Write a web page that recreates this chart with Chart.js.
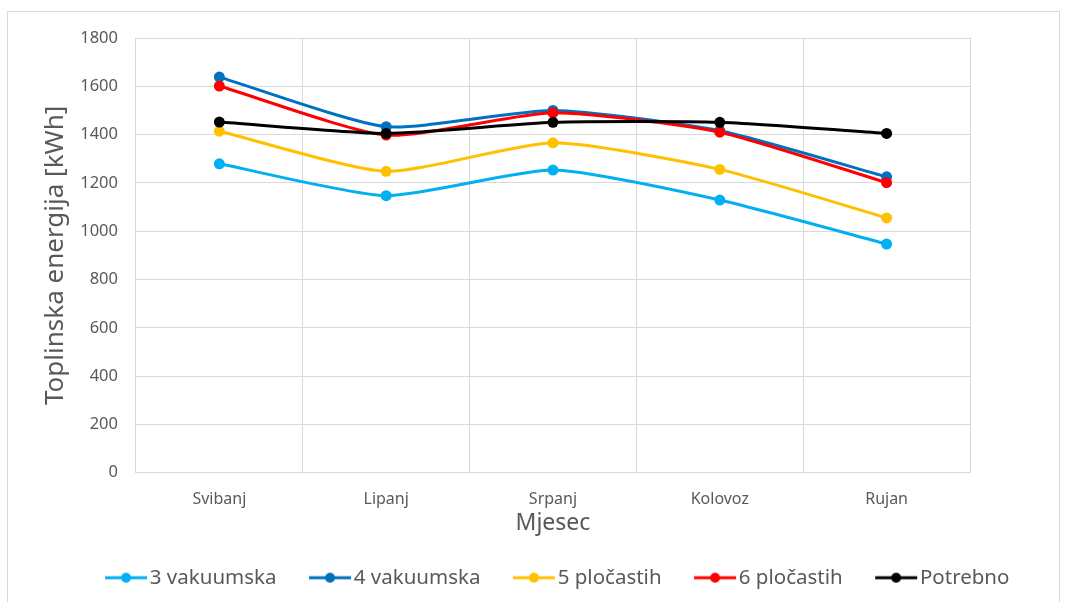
<!DOCTYPE html>
<html>
<head>
<meta charset="utf-8">
<script src="https://cdn.jsdelivr.net/npm/chart.js@4"></script>
<style>
  html, body { margin: 0; padding: 0; background: #fff; }
  #wrap { position: relative; width: 1070px; height: 602px; overflow: hidden; }
  #frame { position: absolute; left: 7px; top: 11px; width: 1053px; height: 620px; border: 1px solid #d9d9d9; box-sizing: border-box; }
  canvas { position: absolute; left: 0; top: 0; }
</style>
</head>
<body>
<div id="wrap">
  <div id="frame"></div>
  <canvas id="chart" width="1070" height="602"></canvas>
</div>
<script>
// Mjeseci
const months = ["Svibanj", "Lipanj", "Srpanj", "Kolovoz", "Rujan"];

// Toplinska energija [kWh]
const vakuumska3 = [1279, 1147, 1253, 1129, 947];
const vakuumska4 = [1638, 1433, 1500, 1416, 1225];
const plocastih5 = [1414, 1248, 1366, 1256, 1055];
const plocastih6 = [1601, 1398, 1490, 1410, 1201];
const potrebno = [1452, 1405, 1451, 1451, 1405];

const names = ["3 vakuumska", "4 vakuumska", "5 pločastih", "6 pločastih", "Potrebno"];
const colors = ["#00B0F0", "#0070C0", "#FFC000", "#FF0000", "#000000"];
const series = [vakuumska3, vakuumska4, plocastih5, plocastih6, potrebno];

// legend marker: line with a dot, like Excel (left part of the image is empty space)
function marker(color) {
    const c = document.createElement("canvas");
    c.width = 66; c.height = 12;
    const ctx = c.getContext("2d");
    ctx.strokeStyle = color;
    ctx.lineWidth = 3;
    ctx.beginPath();
    ctx.moveTo(18, 6);
    ctx.lineTo(60, 6);
    ctx.stroke();
    ctx.fillStyle = color;
    ctx.beginPath();
    ctx.arc(39, 6, 5, 0, Math.PI * 2);
    ctx.fill();
    return c;
}

const datasets = series.map((data, i) => ({
    label: names[i],
    data: data,
    borderColor: colors[i],
    backgroundColor: colors[i],
    borderWidth: 3,
    pointRadius: 5.5,
    pointHoverRadius: 5.5,
    pointBorderWidth: 0,
    tension: 0.2,
    order: series.length - i,
    pointStyle: "circle",
    legendMarker: marker(colors[i])
}));

const font = "'Noto Sans', 'Liberation Sans', sans-serif";
Chart.defaults.font.family = font;
Chart.defaults.color = "#595959";

new Chart(document.getElementById("chart"), {
    type: "line",
    data: {
        labels: months,
        datasets: datasets
    },
    options: {
        responsive: false,
        animation: false,
        layout: {
            padding: { left: 40, top: 38, right: 0, bottom: 4 }
        },
        scales: {
            x: {
                offset: true,
                grid: { color: "#d9d9d9", offset: true, drawTicks: false, lineWidth: 1 },
                border: { color: "#d9d9d9" },
                ticks: { font: { size: 16 }, padding: 17 },
                title: { display: true, text: "Mjesec", font: { size: 23 }, padding: { top: -16, bottom: 2 } }
            },
            y: {
                min: 0,
                max: 1800,
                grid: { color: "#d9d9d9", drawTicks: false },
                border: { color: "#d9d9d9" },
                ticks: { stepSize: 200, font: { size: 16.5 }, padding: 18, callback: v => String(v) },
                title: { display: true, text: "Toplinska energija [kWh]", font: { size: 26 }, padding: { top: 0, bottom: -9 } }
            },
            // empty space on the right of the plot
            yRight: {
                position: "right",
                grid: { display: false },
                border: { display: false },
                ticks: { display: false },
                afterFit: s => { s.width = 100; }
            }
        },
        plugins: {
            tooltip: { enabled: false },
            legend: {
                position: "bottom",
                labels: {
                    usePointStyle: true,
                    pointStyleWidth: 39,
                    padding: 28,
                    font: { size: 20.5 },
                    color: "#595959",
                    sort: (a, b) => a.datasetIndex - b.datasetIndex,
                    generateLabels: chart => chart.data.datasets.map((ds, i) => ({
                        text: ds.label,
                        datasetIndex: i,
                        pointStyle: ds.legendMarker,
                        fillStyle: ds.borderColor,
                        strokeStyle: ds.borderColor,
                        fontColor: "#595959",
                        lineWidth: 0,
                        hidden: false
                    }))
                }
            }
        }
    }
});
</script>
</body>
</html>
